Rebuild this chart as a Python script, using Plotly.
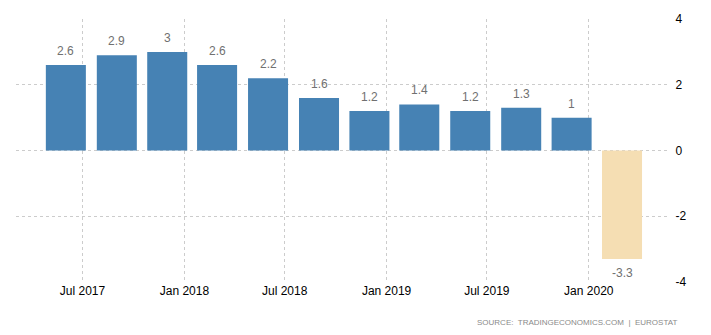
import plotly.graph_objects as go

dates = ["2017-06-01", "2017-09-01", "2017-12-01", "2018-03-01", "2018-06-01", "2018-09-01",
         "2018-12-01", "2019-03-01", "2019-06-01", "2019-09-01", "2019-12-01", "2020-03-01"]
values = [2.6, 2.9, 3, 2.6, 2.2, 1.6, 1.2, 1.4, 1.2, 1.3, 1, -3.3]
labels = ["2.6", "2.9", "3", "2.6", "2.2", "1.6", "1.2", "1.4", "1.2", "1.3", "1", "-3.3"]
tick_dates = ["2017-07-01", "2018-01-01", "2018-07-01", "2019-01-01", "2019-07-01", "2020-01-01"]
tick_text = ["Jul 2017", "Jan 2018", "Jul 2018", "Jan 2019", "Jul 2019", "Jan 2020"]
y_ticks = [-4, -2, 0, 2, 4]
y_tick_text = ["-4", "-2", "0", "2", "4"]

colors = ["#4682B4" if v >= 0 else "#F5DEB3" for v in values]
day_ms = 86400000

fig = go.Figure()
fig.add_trace(go.Bar(x=dates, y=values, marker=dict(color=colors, line=dict(width=0)),
                     width=[72.25 * day_ms] * len(values), hoverinfo="skip"))

for d, v, t in zip(dates, values, labels):
    fig.add_annotation(x=d, y=v, text=t, showarrow=False,
                       yanchor="bottom" if v >= 0 else "top",
                       yshift=5 if v >= 0 else -5,
                       font=dict(family="Liberation Sans", size=12, color="#707070"))

fig.add_annotation(xref="paper", yref="paper", x=1.017, y=-0.155, xanchor="right", yanchor="middle",
                   text="SOURCE:  TRADINGECONOMICS.COM  |  EUROSTAT", showarrow=False,
                   font=dict(family="Liberation Sans", size=8, color="#8a8a8a"))

fig.update_layout(
    width=711, height=335,
    margin=dict(l=16, r=43, t=17, b=53),
    paper_bgcolor="white", plot_bgcolor="white",
    showlegend=False,
    font=dict(family="Liberation Sans", size=12, color="#000000"),
    xaxis=dict(type="date", range=["2017-03-03", "2020-05-23"],
               tickvals=tick_dates, ticktext=tick_text,
               showgrid=True, gridcolor="#cccccc", griddash="dot", gridwidth=1,
               zeroline=False, showline=False, ticks="", tickfont=dict(size=12, color="#000000")),
    yaxis=dict(range=[-4, 4], side="right", tickvals=y_ticks, ticktext=y_tick_text,
               showgrid=True, gridcolor="#cccccc", griddash="dot", gridwidth=1,
               zeroline=False, showline=False, ticks="outside", ticklen=4, tickcolor="rgba(0,0,0,0)",
               tickfont=dict(size=12, color="#000000")),
)

fig.write_html("out.html")
